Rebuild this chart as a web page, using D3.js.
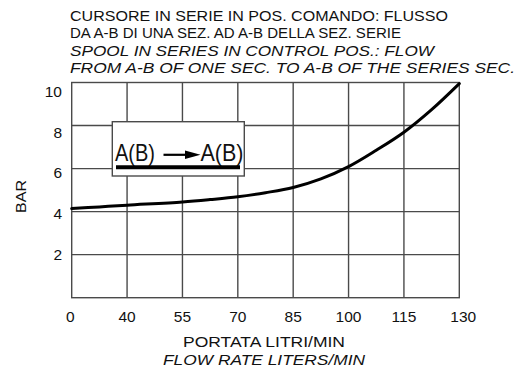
<!DOCTYPE html>
<html>
<head>
<meta charset="utf-8">
<script src="https://cdn.jsdelivr.net/npm/d3@7"></script>
<style>
  body { margin: 0; background: #fff; }
  svg { display: block; }
  text { font-family: "Liberation Sans", Arial, Helvetica, sans-serif; fill: #111; }
</style>
</head>
<body>
<svg id="chart" width="518" height="374"></svg>
<script>
// Flow axis is drawn with equal spacing between unevenly stepped tick values
const flowTicks = [0, 40, 55, 70, 85, 100, 115, 130];
const pressureTicks = [2, 4, 6, 8, 10];

// Pressure drop curve (bar) against flow (l/min)
const flow     = [0, 20, 40, 55, 62.5, 70, 77.5, 85, 92.5, 100, 107.5, 115, 122.5, 130];
const pressure = [4.14, 4.22, 4.30, 4.45, 4.56, 4.69, 4.88, 5.12, 5.52, 6.09, 6.85, 7.69, 8.74, 9.95];

const titleLines = [
  { text: "CURSORE IN SERIE IN POS. COMANDO: FLUSSO", italic: false, w: 378 },
  { text: "DA A-B DI UNA SEZ. AD A-B DELLA SEZ. SERIE", italic: false, w: 331 },
  { text: "SPOOL IN SERIES IN CONTROL POS.: FLOW", italic: true, w: 364 },
  { text: "FROM A-B OF ONE SEC. TO A-B OF THE SERIES SEC.", italic: true, w: 445 }
];
const xTitle = ["PORTATA LITRI/MIN", "FLOW RATE LITERS/MIN"];
const yTitle = "BAR";
const legendLabel = "A(B)";

const svg = d3.select("#chart");
const plot = { left: 71.7, right: 459.3, top: 82.5, bottom: 297.7 };

// piecewise-linear scale: each tick interval gets the same width
const x = d3.scaleLinear()
  .domain(flowTicks)
  .range(flowTicks.map((d, i) => plot.left + i * (plot.right - plot.left) / (flowTicks.length - 1)));
const y = d3.scaleLinear().domain([0, 10]).range([plot.bottom, plot.top]);
// pressure labels sit on their own slightly tighter spacing
const yLabel = d3.scaleLinear().domain([2, 10]).range([254.8, 91]);

const gridColor = "#4a4a4a";

// title
const title = svg.append("g");
titleLines.forEach((l, i) => {
  title.append("text")
    .attr("x", 70).attr("y", 20.8 + i * 17.5)
    .attr("font-size", 15)
    .attr("font-style", l.italic ? "italic" : "normal")
    .attr("textLength", l.w)
    .attr("lengthAdjust", "spacingAndGlyphs")
    .text(l.text);
});

// grid
const grid = svg.append("g").attr("stroke", gridColor).attr("stroke-width", 1.4).attr("fill", "none");
grid.selectAll("line.v").data(flowTicks.slice(1, -1)).join("line")
  .attr("x1", d => x(d)).attr("x2", d => x(d))
  .attr("y1", plot.top).attr("y2", plot.bottom);
grid.selectAll("line.h").data(pressureTicks.slice(0, -1)).join("line")
  .attr("x1", plot.left).attr("x2", plot.right)
  .attr("y1", d => y(d)).attr("y2", d => y(d));
grid.append("rect")
  .attr("x", plot.left).attr("y", plot.top)
  .attr("width", plot.right - plot.left).attr("height", plot.bottom - plot.top);

// x tick labels
svg.append("g").selectAll("text").data(flowTicks).join("text")
  .attr("x", (d, i) => x(d) + (i === flowTicks.length - 1 ? 4 : 0) - (i === 0 ? 1.5 : 0))
  .attr("y", 321.7)
  .attr("text-anchor", "middle")
  .attr("font-size", 15.5)
  .text(d => d);

// y tick labels
svg.append("g").selectAll("text").data(pressureTicks).join("text")
  .attr("x", 62)
  .attr("y", d => yLabel(d))
  .attr("dy", "0.36em")
  .attr("text-anchor", "end")
  .attr("font-size", 15.5)
  .text(d => d);

// axis titles
svg.append("text")
  .attr("x", 264).attr("y", 347.3)
  .attr("text-anchor", "middle").attr("font-size", 15.5)
  .attr("textLength", 162).attr("lengthAdjust", "spacingAndGlyphs")
  .text(xTitle[0]);
svg.append("text")
  .attr("x", 264).attr("y", 364.5)
  .attr("text-anchor", "middle").attr("font-size", 15.5).attr("font-style", "italic")
  .attr("textLength", 202).attr("lengthAdjust", "spacingAndGlyphs")
  .text(xTitle[1]);
svg.append("text")
  .attr("transform", "translate(25.5,196.5) rotate(-90)")
  .attr("text-anchor", "middle").attr("font-size", 14)
  .attr("textLength", 33).attr("lengthAdjust", "spacingAndGlyphs")
  .text(yTitle);

// curve
const line = d3.line()
  .x((d, i) => x(flow[i]))
  .y(d => y(d))
  .curve(d3.curveCatmullRom.alpha(0.5));
svg.append("path")
  .datum(pressure)
  .attr("d", line)
  .attr("fill", "none")
  .attr("stroke", "#000")
  .attr("stroke-width", 3)
  .attr("stroke-linecap", "round");

// legend box
const lg = svg.append("g");
lg.append("rect")
  .attr("x", 112.3).attr("y", 121.7).attr("width", 132).attr("height", 54.3)
  .attr("fill", "#fff").attr("stroke", gridColor).attr("stroke-width", 1.4);
lg.append("text")
  .attr("x", 115).attr("y", 160.5).attr("font-size", 24)
  .attr("textLength", 40).attr("lengthAdjust", "spacingAndGlyphs")
  .text(legendLabel);
lg.append("line")
  .attr("x1", 163.5).attr("x2", 187).attr("y1", 154.8).attr("y2", 154.8)
  .attr("stroke", "#000").attr("stroke-width", 2.2);
lg.append("path")
  .attr("d", "M185,150.5 L200.5,154.8 L185,159.1 Z")
  .attr("fill", "#000");
lg.append("text")
  .attr("x", 200.5).attr("y", 160.5).attr("font-size", 24)
  .attr("textLength", 43).attr("lengthAdjust", "spacingAndGlyphs")
  .text(legendLabel);
lg.append("line")
  .attr("x1", 116).attr("x2", 240).attr("y1", 167.3).attr("y2", 167.3)
  .attr("stroke", "#000").attr("stroke-width", 4);
</script>
</body>
</html>
